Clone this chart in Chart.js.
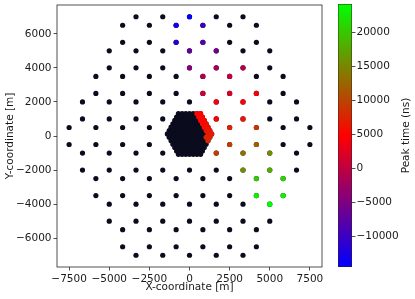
<!DOCTYPE html>
<html>
<head>
<meta charset="utf-8">
<script src="https://cdn.jsdelivr.net/npm/chart.js@4.4.1/dist/chart.umd.min.js"></script>
<style>
    html, body { margin: 0; padding: 0; background: #fff; }
    #wrap { position: relative; width: 415px; height: 299px; }
    #wrap canvas { position: absolute; left: 0; top: 0; }
</style>
</head>
<body>
<div id="wrap">
    <canvas id="mapa" width="415" height="299"></canvas>
    <canvas id="barra" width="415" height="299"></canvas>
</div>
<script>
// Red exterior: filas (y) y posiciones x de cada estación
const filasY = [7000, 6500, 5500, 5000, 4000, 3500, 2500, 2000, 1000, 500,
    -500, -1000, -2000, -2500, -3500, -4000, -5000, -5500, -6500, -7000];
const filasX = [
    [-3333, -1667, 0, 1667, 3333],
    [-4167, -2500, -833, 833, 2500, 4167],
    [-4167, -2500, -833, 833, 2500, 4167],
    [-5000, -3333, -1667, 0, 1667, 3333, 5000],
    [-5000, -3333, -1667, 0, 1667, 3333, 5000],
    [-5833, -4167, -2500, -833, 833, 2500, 4167, 5833],
    [-5833, -4167, -2500, -833, 833, 2500, 4167, 5833],
    [-6667, -5000, -3333, -1667, 0, 1667, 3333, 5000, 6667],
    [-6667, -5000, -3333, -1667, 1667, 3333, 5000, 6667],
    [-7500, -5833, -4167, -2500, 2500, 4167, 5833, 7500],
    [-7500, -5833, -4167, -2500, 2500, 4167, 5833, 7500],
    [-6667, -5000, -3333, -1667, 1667, 3333, 5000, 6667],
    [-6667, -5000, -3333, -1667, 0, 1667, 3333, 5000, 6667],
    [-5833, -4167, -2500, -833, 833, 2500, 4167, 5833],
    [-5833, -4167, -2500, -833, 833, 2500, 4167, 5833],
    [-5000, -3333, -1667, 0, 1667, 3333, 5000],
    [-5000, -3333, -1667, 0, 1667, 3333, 5000],
    [-4167, -2500, -833, 833, 2500, 4167],
    [-4167, -2500, -833, 833, 2500, 4167],
    [-3333, -1667, 0, 1667, 3333]
];

// Núcleo denso del centro
const nucleoY = [1314, 1115, 916, 717, 518, 319, 120, -79, -278, -477, -676, -875, -1074];
const nucleoX = [
    [-690, -460, -230, 0, 230, 460, 690],
    [-805, -575, -345, -115, 115, 345, 575, 805],
    [-920, -690, -460, -230, 0, 230, 460, 690, 920],
    [-1035, -805, -575, -345, -115, 115, 345, 575, 805, 1035],
    [-1150, -920, -690, -460, -230, 0, 230, 460, 690, 920, 1150],
    [-1265, -1035, -805, -575, -345, -115, 115, 345, 575, 805, 1035, 1265],
    [-1380, -1150, -920, -690, -460, -230, 0, 230, 460, 690, 920, 1150, 1380],
    [-1265, -1035, -805, -575, -345, -115, 115, 345, 575, 805, 1035, 1265],
    [-1150, -920, -690, -460, -230, 0, 230, 460, 690, 920, 1150],
    [-1035, -805, -575, -345, -115, 115, 345, 575, 805, 1035],
    [-920, -690, -460, -230, 0, 230, 460, 690, 920],
    [-805, -575, -345, -115, 115, 345, 575, 805],
    [-690, -460, -230, 0, 230, 460, 690]
];

// Estaciones con señal: posición y tiempo de pico (ns)
const disparoX = [0, -833, 833, -833, 833, 0, 1667, 0, 1667, 3333, 833, 2500,
    833, 2500, 4167, 1667, 3333, 1667, 3333, 2500, 4167, 2500, 4167, 1667,
    3333, 5000, 3333, 5000, 4167, 5833, 4167, 5833, 5000,
    460, 690, 575, 805, 690, 920, 805, 1035, 920, 1150, 1035, 1265, 1150, 1380, 1035, 1265, 1150];
const disparoY = [7000, 6500, 6500, 5500, 5500, 5000, 5000, 4000, 4000, 4000, 3500, 3500,
    2500, 2500, 2500, 2000, 2000, 1000, 1000, 500, 500, -500, -500, -1000,
    -1000, -1000, -2000, -2000, -2500, -2500, -3500, -3500, -4000,
    1314, 1314, 1115, 1115, 916, 916, 717, 717, 518, 518, 319, 319, 120, 120, -79, -79, -278];
const disparoT = [-14500, -13300, -10000, -11500, -8000, -7000, -5800, -4200, -1800, -600, -1200, 300,
    1000, 1800, 4000, 4200, 4600, 5000, 6000, 7200, 8700, 9500, 11800, 9500,
    13400, 15500, 15700, 18000, 20300, 21100, 23000, 23000, 24200,
    5200, 4900, 5300, 5000, 5400, 5200, 5600, 5500, 6000, 5900, 6400, 6300, 7000, 6800, 7600, 7300, 8000];

const ticksX = [-7500, -5000, -2500, 0, 2500, 5000, 7500];
const ticksY = [-6000, -4000, -2000, 0, 2000, 4000, 6000];
const ticksBarra = [-10000, -5000, 0, 5000, 10000, 15000, 20000];
const vMin = -14500;
const vMax = 24200;

const fuente = { family: 'DejaVu Sans', size: 10.5 };
const tinta = '#1a1a1a';
const lineaEje = '#262626';

// mapa de color "brg": azul -> rojo -> verde
function colorBrg(v) {
    let t = (v - vMin) / (vMax - vMin);
    t = Math.min(1, Math.max(0, t));
    let r, g, b;
    if (t < 0.5) { r = 2 * t; g = 0; b = 1 - 2 * t; }
    else { r = 2 - 2 * t; g = 2 * t - 1; b = 0; }
    return `rgb(${Math.round(r * 255)},${Math.round(g * 255)},${Math.round(b * 255)})`;
}

const formato = v => String(v).replace('-', '\u2212');

const estaciones = [];
filasY.forEach((y, i) => filasX[i].forEach(x => estaciones.push({ x: x, y: y })));
nucleoY.forEach((y, i) => nucleoX[i].forEach(x => estaciones.push({ x: x, y: y })));

const disparos = disparoX.map((x, i) => ({ x: x, y: disparoY[i] }));
const coloresDisparo = disparoT.map(colorBrg);

const marco = {
    id: 'marco',
    afterDraw(chart) {
        const { ctx, chartArea: a } = chart;
        ctx.save();
        ctx.strokeStyle = lineaEje;
        ctx.lineWidth = 0.8;
        ctx.strokeRect(a.left, a.top, a.right - a.left, a.bottom - a.top);
        ctx.restore();
    }
};

const rejilla = { display: true, drawOnChartArea: false, drawTicks: true, tickLength: 3.5, tickWidth: 0.8, tickColor: lineaEje };

new Chart(document.getElementById('mapa'), {
    type: 'scatter',
    data: {
        datasets: [
            { label: 'Peak time', data: disparos, pointRadius: 2.6, pointBorderWidth: 0,
              pointBackgroundColor: coloresDisparo, order: 0 },
            { label: 'Estaciones', data: estaciones, pointRadius: 2.6, pointBorderWidth: 0,
              pointBackgroundColor: '#0b0b1e', order: 1 }
        ]
    },
    options: {
        responsive: false,
        animation: false,
        layout: { padding: { left: 0, top: 5, right: 93, bottom: 0 } },
        plugins: { legend: { display: false }, tooltip: { enabled: false } },
        scales: {
            x: {
                type: 'linear', min: -8255, max: 8255,
                afterBuildTicks: s => { s.ticks = ticksX.map(v => ({ value: v })); },
                afterFit: s => { s.height = 32; s.paddingLeft = 0; s.paddingRight = 0; },
                grid: rejilla,
                border: { display: false },
                ticks: { font: fuente, color: tinta, padding: 2, maxRotation: 0, callback: formato },
                title: { display: true, text: 'X-coordinate [m]', font: fuente, color: tinta, padding: { top: 0, bottom: 5 } }
            },
            y: {
                type: 'linear', min: -7690, max: 7690,
                afterBuildTicks: s => { s.ticks = ticksY.map(v => ({ value: v })); },
                afterFit: s => { s.width = 57; s.paddingTop = 0; s.paddingBottom = 0; },
                grid: rejilla,
                border: { display: false },
                ticks: { font: fuente, color: tinta, padding: 2, callback: formato },
                title: { display: true, text: 'Y-coordinate [m]', font: fuente, color: tinta, padding: { top: 4, bottom: 0 } }
            }
        }
    },
    plugins: [marco]
});

function gradiente(chart) {
    const s = chart.scales.y;
    if (!s || !chart.chartArea) return 'red';
    const g = chart.ctx.createLinearGradient(0, s.getPixelForValue(vMin), 0, s.getPixelForValue(vMax));
    g.addColorStop(0, 'rgb(0,0,255)');
    g.addColorStop(0.5, 'rgb(255,0,0)');
    g.addColorStop(1, 'rgb(0,255,0)');
    return g;
}

const etiquetaBarra = {
    id: 'etiquetaBarra',
    afterDraw(chart) {
        const { ctx, chartArea: a } = chart;
        ctx.save();
        ctx.translate(406, (a.top + a.bottom) / 2);
        ctx.rotate(-Math.PI / 2);
        ctx.font = '10.5px "DejaVu Sans"';
        ctx.fillStyle = tinta;
        ctx.textAlign = 'center';
        ctx.textBaseline = 'middle';
        ctx.fillText('Peak time (ns)', 0, 0);
        ctx.restore();
    }
};

new Chart(document.getElementById('barra'), {
    type: 'bar',
    data: {
        labels: ['Peak time'],
        datasets: [{
            data: [[vMin, vMax]],
            backgroundColor: c => gradiente(c.chart),
            borderColor: lineaEje,
            borderWidth: 0.8,
            borderSkipped: false,
            barPercentage: 1,
            categoryPercentage: 1
        }]
    },
    options: {
        responsive: false,
        animation: false,
        layout: { padding: { left: 338, top: 4, right: 0, bottom: 32 } },
        plugins: { legend: { display: false }, tooltip: { enabled: false } },
        scales: {
            x: { display: false },
            y: {
                position: 'right', min: vMin, max: vMax,
                afterBuildTicks: s => { s.ticks = ticksBarra.map(v => ({ value: v })); },
                afterFit: s => { s.width = 63; s.paddingTop = 0; s.paddingBottom = 0; },
                grid: rejilla,
                border: { display: false },
                ticks: { font: fuente, color: tinta, padding: 1, callback: formato }
            }
        }
    },
    plugins: [etiquetaBarra]
});
</script>
</body>
</html>
